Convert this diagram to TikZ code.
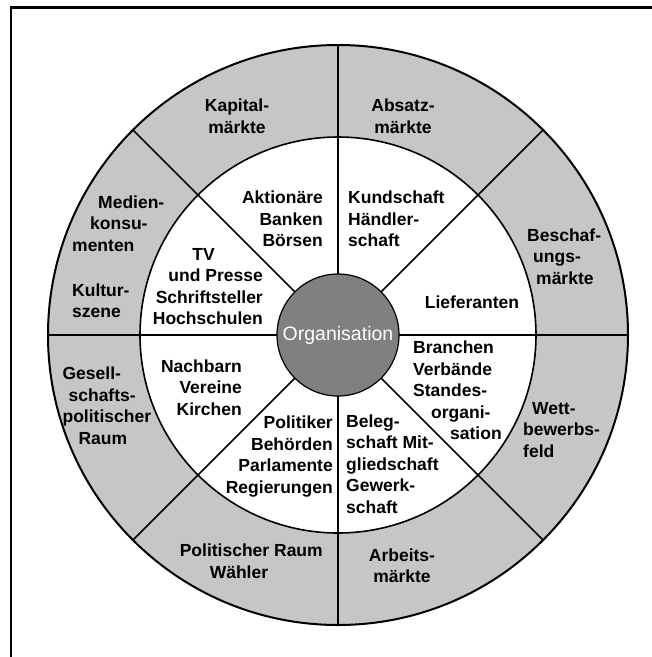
\documentclass[tikz,border=0pt]{standalone}
\usepackage{fontspec}
\setmainfont{Liberation Sans}
\usetikzlibrary{calc}
\definecolor{ringgray}{RGB}{198,198,198}
\definecolor{coregray}{RGB}{128,128,128}
\begin{document}
\begin{tikzpicture}[x=1pt,y=-1pt,
  lbl/.style={font=\fontsize{17.5}{21.5}\selectfont\bfseries, inner sep=0pt},
  spoke/.style={line width=1.5pt},
  ringline/.style={line width=1.6pt},
  frameline/.style={line width=2.3pt}]
\useasboundingbox (0,0) rectangle (652,657);
% frame (open to the right and bottom)
\draw[frameline] (11,657) -- (11,7.5) -- (652,7.5);
\coordinate (C) at (338,335);
% outer grey ring and inner white disc
\fill[ringgray] (C) circle (290);
\fill[white] (C) circle (198);
% eight spokes from the core to the rim
\foreach \a in {0,45,...,315}
  \draw[spoke] ($(C)+(\a:61)$) -- ($(C)+(\a:290)$);
\draw[ringline] (C) circle (198);
\draw[line width=2pt] (C) circle (290);
% core
\node[circle, draw=black, line width=1.2pt, fill=coregray, minimum size=122pt, inner sep=0pt,
      text=white, font=\fontsize{19.5}{22}\selectfont] (org) at (C) {Organisation};
% inner ring
\node[lbl, anchor=east, align=right] (aktionaere) at (323,219) {Aktionäre\\Banken\\Börsen};
\node[lbl, anchor=west, align=left] (kundschaft) at (348,219) {Kundschaft\\Händler-\\schaft};
\node[lbl] (lieferanten) at (472,302) {Lieferanten};
\node[lbl, anchor=west, align=left] (branchen) at (413,390.5) {Branchen\\Verbände\\Standes-\\\hspace*{18pt}organi-\\\hspace*{37pt}sation};
\node[lbl, anchor=west, align=left] (belegschaft) at (346,464) {Beleg-\\schaft Mit-\\gliedschaft\\Gewerk-\\schaft};
\node[lbl, anchor=east, align=right] (politiker) at (333,456.5) {Politiker\\Behörden\\Parlamente\\Regierungen};
\node[lbl, anchor=east, align=right] (nachbarn) at (242,387.5) {Nachbarn\\Vereine\\Kirchen};
\node[lbl, anchor=east, align=right] (presse) at (263,286.5) {TV\hspace*{48pt}\\und Presse\\Schriftsteller\\Hochschulen};
% outer ring
\node[lbl, align=center] (kapital) at (237,116) {Kapital-\\märkte};
\node[lbl, align=center] (absatz) at (403,116) {Absatz-\\märkte};
\node[lbl, anchor=west, align=left] (beschaffung) at (527,256.5) {Beschaf-\\\hspace*{6pt}ungs-\\\hspace*{9pt}märkte};
\node[lbl, anchor=west, align=left] (wettbewerb) at (523,430) {\hspace*{9pt}Wett-\\bewerbs-\\feld};
\node[lbl, align=center] (arbeit) at (402,565.5) {Arbeits-\\märkte};
\node[lbl, anchor=west, align=left] (politraum) at (179.6,561) {Politischer Raum\\\hspace*{30pt}Wähler};
\node[lbl, anchor=west, align=left] (gesell) at (62.4,405.5) {Gesell-\\\hspace*{6pt}schafts-\\politischer\\\hspace*{16pt}Raum};
\node[lbl, anchor=west, align=left] (medienk) at (72,223.5) {\hspace*{26pt}Medien-\\\hspace*{18pt}konsu-\\menten};
\node[lbl, anchor=west, align=left] (kultur) at (72,300.5) {Kultur-\\szene};
\end{tikzpicture}
\end{document}
